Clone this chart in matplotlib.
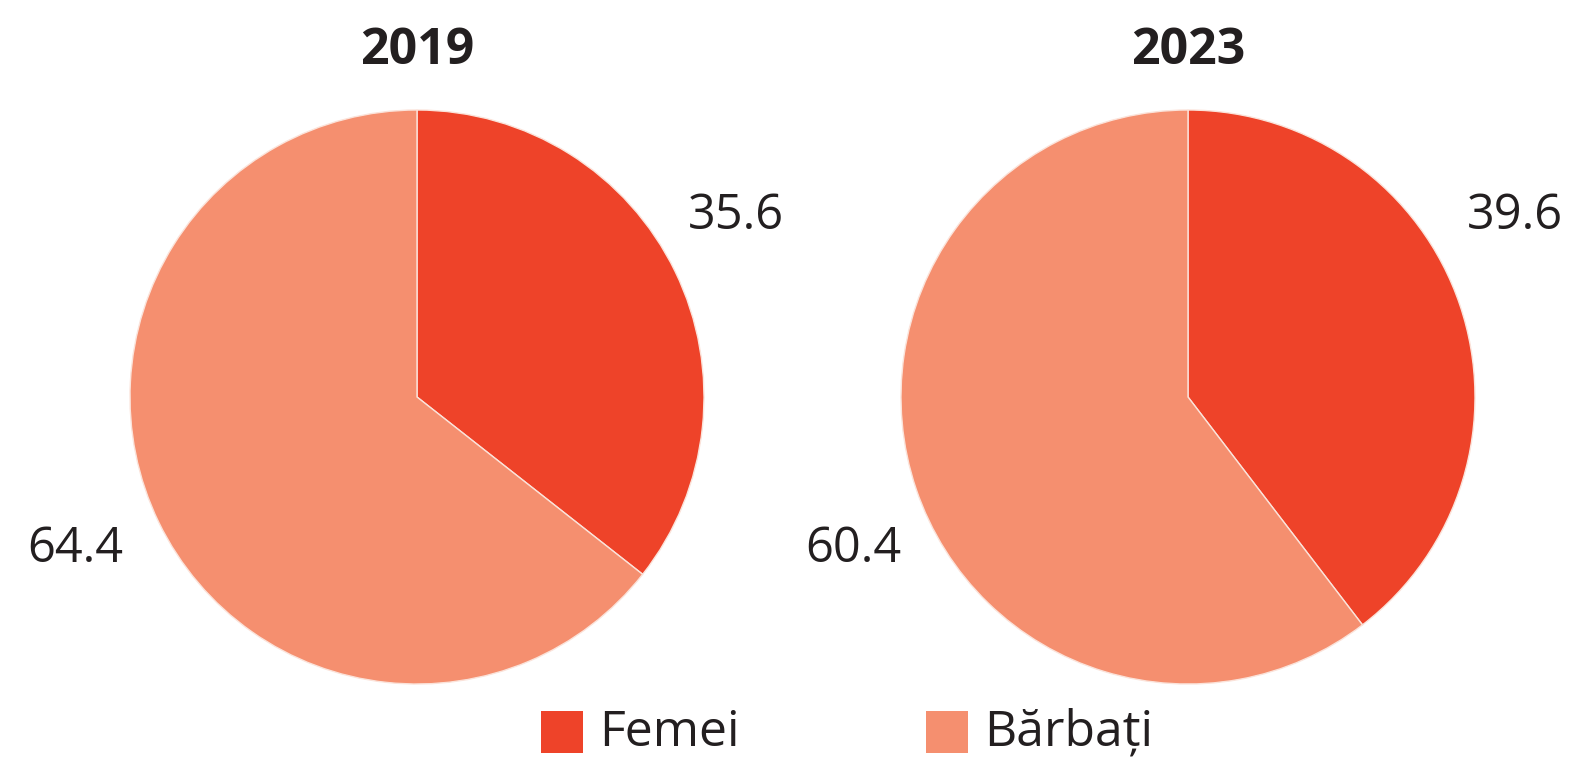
import matplotlib
matplotlib.use("Agg")
import matplotlib.pyplot as plt
from matplotlib.patches import Rectangle

# Data
years = ["2019", "2023"]
categories = ["Femei", "Bărbați"]
femei = [35.6, 39.6]
barbati = [64.4, 60.4]
colors = ["#EE4329", "#F58F6F"]

plt.rcParams["font.family"] = ["Open Sans", "DejaVu Sans"]
TEXT = "#231F20"

W, H = 1569, 758
fig = plt.figure(figsize=(W / 100, H / 100), dpi=100)

# pie centres and radius in pixels
centres = [(417, 397), (1188, 397)]
R = 287
label_pos = [((1.11, 0.63), (-1.19, -0.53)), ((1.14, 0.63), (-1.165, -0.53))]

for i, year in enumerate(years):
    cx, cy = centres[i]
    cy_f = H - cy
    ax = fig.add_axes([(cx - R) / W, (cy_f - R) / H, 2 * R / W, 2 * R / H])
    vals = [femei[i], barbati[i]]
    ax.pie(vals, colors=colors, startangle=90, counterclock=False, radius=1,
           wedgeprops=dict(edgecolor="#FBE3DA", linewidth=1.0))
    ax.set_xlim(-1, 1)
    ax.set_ylim(-1, 1)
    ax.set_aspect("equal")
    ax.axis("off")
    (fx, fy), (bx, by) = label_pos[i]
    ax.text(fx, fy, f"{vals[0]:.1f}", ha="center", va="center",
            fontsize=35, color=TEXT, clip_on=False)
    ax.text(bx, by, f"{vals[1]:.1f}", ha="center", va="center",
            fontsize=35, color=TEXT, clip_on=False)
    fig.text(cx / W, 1 - 51 / H, year, ha="center", va="center",
             fontsize=36, fontweight="bold", color=TEXT)

# legend
leg_x = [541, 926]
for x, lab, col in zip(leg_x, categories, colors):
    fig.add_artist(Rectangle((x / W, 1 - 753 / H), 42 / W, 42 / H,
                             transform=fig.transFigure, facecolor=col,
                             edgecolor="none"))
    fig.text((x + 58) / W, 1 - 733 / H, lab, ha="left", va="center",
             fontsize=36, color=TEXT)

fig.savefig("out.png", dpi=100)
